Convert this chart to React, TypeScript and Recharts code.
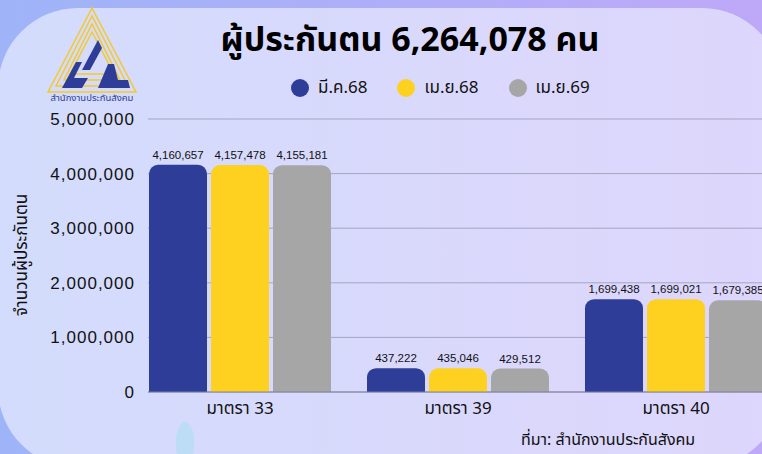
import { BarChart, Bar, XAxis, YAxis, CartesianGrid, LabelList } from "recharts";

const categories = ["มาตรา 33", "มาตรา 39", "มาตรา 40"];
const mar68 = [4160657, 437222, 1699438];
const apr68 = [4157478, 435046, 1699021];
const apr69 = [4155181, 429512, 1679385];
const yTicks = [0, 1000000, 2000000, 3000000, 4000000, 5000000];

const series = [
  { key: "mar68", name: "มี.ค.68", color: "#2e3d97" },
  { key: "apr68", name: "เม.ย.68", color: "#fed120" },
  { key: "apr69", name: "เม.ย.69", color: "#a6a6a6" },
];

const data = categories.map((c, i) => ({
  name: c,
  mar68: mar68[i],
  apr68: apr68[i],
  apr69: apr69[i],
}));

const fmt = (v: number) => v.toLocaleString("en-US");
const thaiFont = "'Noto Sans Thai', 'Noto Sans', 'DejaVu Sans', sans-serif";
const numFont = "'Liberation Sans', Arial, sans-serif";

function LegendBox() {
  return (
    <div
      style={{
        position: "absolute",
        left: 291,
        top: 75,
        display: "flex",
        gap: 30,
        fontFamily: thaiFont,
        fontSize: 17,
        color: "#111",
      }}
    >
      {series.map((s) => (
        <div key={s.key} style={{ display: "flex", alignItems: "center", gap: 9 }}>
          <span style={{ width: 18, height: 18, borderRadius: 9, background: s.color, display: "inline-block" }} />
          <span>{s.name}</span>
        </div>
      ))}
    </div>
  );
}

function Logo() {
  return (
    <svg width={100} height={100} style={{ position: "absolute", left: 42, top: 4 }}>
      <polygon points="50,4 6,88 94,88" fill="none" stroke="#f5c92a" strokeWidth={1.5} />
      <polygon points="50,12 14,82 86,82" fill="none" stroke="#f5c92a" strokeWidth={1.5} />
      <polygon points="50,20 22,76 78,76" fill="none" stroke="#f5c92a" strokeWidth={1.5} />
      <polygon points="50,28 28,70 72,70" fill="none" stroke="#f5c92a" strokeWidth={1.5} />
      <path d="M20,84 L34,58 L40,58 L32,74 L46,74 L40,84 Z" fill="#2e3d97" />
      <path d="M40,66 L56,36 L60,44 L48,66 Z" fill="#2e3d97" />
      <path d="M56,84 L66,60 L72,60 L76,76 L86,76 L88,84 Z" fill="#2e3d97" />
      <text x={50} y={97} textAnchor="middle" fontSize={9.5} fill="#2e3d97" fontFamily={thaiFont}>
        สำนักงานประกันสังคม
      </text>
    </svg>
  );
}

export default function App() {
  return (
    <div
      style={{
        position: "absolute",
        left: 0,
        top: 0,
        width: 762,
        height: 454,
        overflow: "hidden",
        background: "linear-gradient(to right, #9fb4f8, #bea8f8)",
      }}
    >
      <div
        style={{
          position: "absolute",
          left: -2,
          top: 8,
          width: 784,
          height: 460,
          borderRadius: 80,
          background: "linear-gradient(to right, #d3dcfc, #ded6fc)",
        }}
      />
      <div
        style={{
          position: "absolute",
          left: 176,
          top: 422,
          width: 18,
          height: 40,
          borderRadius: "50% 50% 40% 40%",
          background: "#b7dcf4",
          opacity: 0.8,
        }}
      />
      <Logo />
      <div
        style={{
          position: "absolute",
          left: 180,
          top: 15,
          width: 460,
          textAlign: "center",
          fontFamily: thaiFont,
          fontWeight: 700,
          fontSize: 34,
          color: "#000",
        }}
      >
        ผู้ประกันตน 6,264,078 คน
      </div>
      <LegendBox />
      <div
        style={{
          position: "absolute",
          left: 4,
          top: 255,
          transform: "translate(-50%, -50%) rotate(-90deg)",
          marginLeft: 18,
          whiteSpace: "nowrap",
          fontFamily: thaiFont,
          fontSize: 17,
          color: "#111",
        }}
      >
        จำนวนผู้ประกันตน
      </div>
      <div
        style={{
          position: "absolute",
          left: 521,
          top: 428,
          fontFamily: thaiFont,
          fontSize: 16,
          color: "#111",
        }}
      >
        ที่มา: สำนักงานประกันสังคม
      </div>
      <div style={{ position: "absolute", left: 0, top: 0 }}>
        <BarChart
          width={800}
          height={454}
          data={data}
          margin={{ top: 119, right: 15, bottom: 32, left: 0 }}
          barSize={58}
          barGap={4}
        >
          <CartesianGrid vertical={false} stroke="#a3a5c2" strokeWidth={1} />
          <XAxis
            dataKey="name"
            height={30}
            padding={{ left: -17, right: 0 }}
            tickLine={false}
            axisLine={{ stroke: "#7d80a0" }}
            tick={{ fontFamily: thaiFont, fontSize: 17, fill: "#111" }}
            tickMargin={4}
          />
          <YAxis
            width={148}
            domain={[0, 5000000]}
            ticks={yTicks}
            interval={0}
            tickFormatter={fmt}
            axisLine={false}
            tickLine={false}
            tickMargin={7}
            tick={{ fontFamily: numFont, fontSize: 17, fill: "#111", letterSpacing: 1 }}
          />
          {series.map((s) => (
            <Bar
              key={s.key}
              dataKey={s.key}
              name={s.name}
              fill={s.color}
              radius={[9, 9, 0, 0]}
              isAnimationActive={false}
            >
              <LabelList
                dataKey={s.key}
                position="top"
                offset={6}
                formatter={(v: any) => fmt(Number(v))}
                style={{ fontFamily: numFont, fontSize: 11.5, fill: "#111" }}
              />
            </Bar>
          ))}
        </BarChart>
      </div>
    </div>
  );
}
